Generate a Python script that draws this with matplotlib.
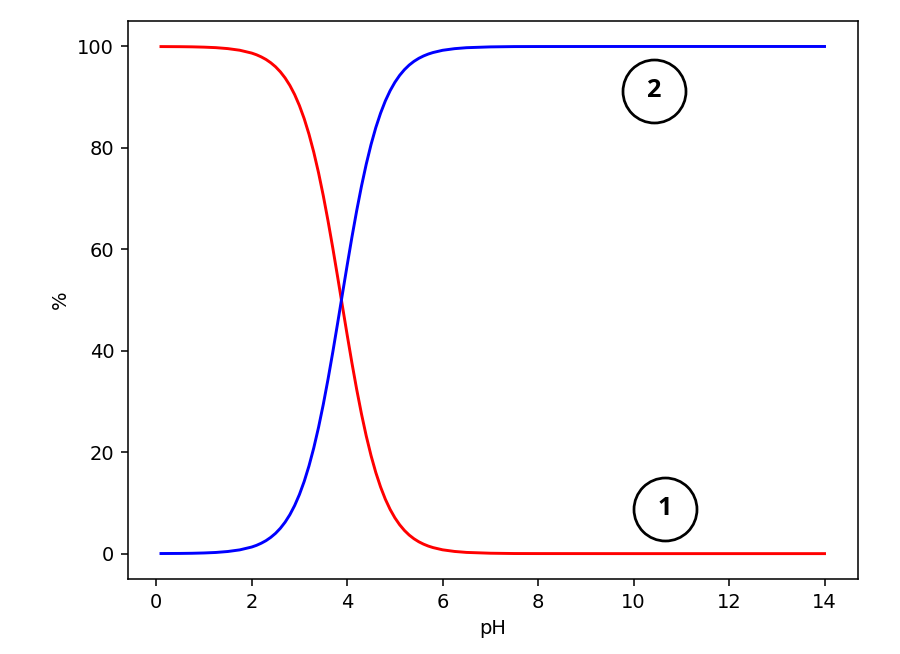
import matplotlib
matplotlib.use("Agg")
import matplotlib.pyplot as plt

# pH points and %
ph = [0.1, 0.5, 0.75, 1.0, 1.25, 1.5, 1.75, 2.0, 2.1, 2.2, 2.3, 2.4, 2.5, 2.6,
      2.7, 2.8, 2.9, 3.0, 3.1, 3.2, 3.3, 3.4, 3.5, 3.6, 3.7, 3.8, 3.9, 4.0,
      4.1, 4.2, 4.3, 4.4, 4.5, 4.6, 4.7, 4.8, 4.9, 5.0, 5.1, 5.2, 5.3, 5.4,
      5.5, 5.6, 5.7, 5.8, 6.0, 6.25, 6.5, 7.0, 7.5, 8.0, 10.0, 12.0, 14.0]
blue = [0.02, 0.04, 0.07, 0.13, 0.23, 0.42, 0.74, 1.30, 1.63, 2.05, 2.56, 3.21,
        4.00, 4.99, 6.20, 7.68, 9.48, 11.65, 14.23, 17.28, 20.82, 24.87, 29.42,
        34.42, 39.78, 45.41, 51.15, 56.85, 62.40, 67.63, 72.45, 76.80, 80.65,
        84.00, 86.85, 89.27, 91.28, 92.94, 94.31, 95.43, 96.34, 97.07, 97.66,
        98.13, 98.51, 98.81, 99.25, 99.57, 99.76, 99.92, 99.98, 99.99, 100.0,
        100.0, 100.0]
red = [99.98, 99.96, 99.93, 99.87, 99.77, 99.58, 99.26, 98.70, 98.37, 97.95,
       97.44, 96.79, 96.00, 95.01, 93.80, 92.32, 90.52, 88.35, 85.77, 82.72,
       79.18, 75.13, 70.58, 65.58, 60.22, 54.59, 48.85, 43.15, 37.60, 32.37,
       27.55, 23.20, 19.35, 16.00, 13.15, 10.73, 8.72, 7.06, 5.69, 4.57, 3.66,
       2.93, 2.34, 1.87, 1.49, 1.19, 0.75, 0.43, 0.24, 0.08, 0.02, 0.01, 0.0,
       0.0, 0.0]

# circled labels: (pH, %, text)
labels_x = [10.66, 10.42]
labels_y = [8.85, 91.3]
labels_t = ["1", "2"]

fig = plt.figure(figsize=(900 / 140, 654 / 140), dpi=140)
ax = fig.add_axes([0.142, 0.1147, 0.811, 0.853])

ax.plot(ph, red, color="red")
ax.plot(ph, blue, color="blue")

for x, y, t in zip(labels_x, labels_y, labels_t):
    ax.plot(x, y, marker="o", markersize=32.4, markerfacecolor="none",
            markeredgecolor="black", markeredgewidth=1.4, zorder=3)
    ax.text(x, y, t, ha="center", va="center", fontsize=13,
            fontweight="bold", family="Open Sans", zorder=4)

ax.set_xlabel("pH")
ax.set_ylabel("%")
ax.set_xticks([0, 2, 4, 6, 8, 10, 12, 14])
ax.set_yticks([0, 20, 40, 60, 80, 100])

fig.savefig("out.png", dpi=140)
